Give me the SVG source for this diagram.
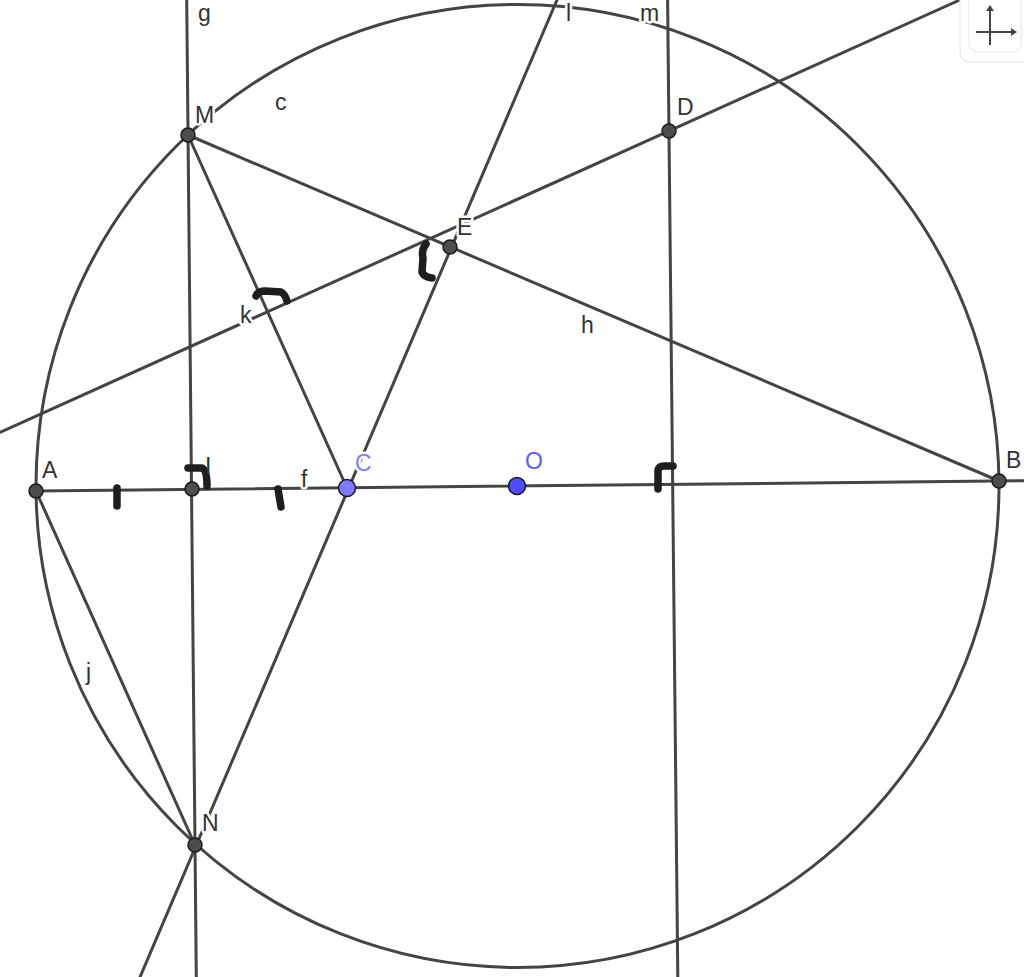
<svg xmlns="http://www.w3.org/2000/svg" width="1024" height="977" viewBox="0 0 1024 977">
<style>
.ln{stroke:#444;stroke-width:3;fill:none;stroke-linecap:round}
.mk{stroke:#1e1e1e;stroke-width:7.5;fill:none;stroke-linecap:round;stroke-linejoin:round}
.pt{fill:#4d4d4d;stroke:#1a1a1a;stroke-width:1.5}
.lb{font-family:"Liberation Sans",Arial,sans-serif;font-size:23px;fill:#333;stroke:#fff;stroke-width:5;paint-order:stroke;stroke-linejoin:round}
</style>
<rect width="1024" height="977" fill="#fff"/>
<g id="connectors">
<circle class="ln" cx="517.5" cy="486" r="481.5"/>
<line class="ln" x1="36" y1="491" x2="1024" y2="480.7"/>
<line class="ln" x1="186.7" y1="0" x2="196.3" y2="977"/>
<line class="ln" x1="188" y1="135" x2="999" y2="481"/>
<line class="ln" x1="557" y1="0" x2="140" y2="977"/>
<line class="ln" x1="36" y1="491" x2="195" y2="845"/>
<line class="ln" x1="0" y1="432.3" x2="959.8" y2="0"/>
<line class="ln" x1="188" y1="135" x2="347" y2="488"/>
<line class="ln" x1="667.6" y1="0" x2="677.8" y2="977"/>
</g>
<g id="line-labels">
<text class="lb" x="275" y="110">c</text>
<text class="lb" x="198" y="21">g</text>
<text class="lb" x="566" y="21">l</text>
<text class="lb" x="640" y="21">m</text>
<text class="lb" x="240" y="323">k</text>
<text class="lb" x="581" y="333">h</text>
<text class="lb" x="301" y="487">f</text>
<text class="lb" x="86" y="680">j</text>
</g>
<g id="markers">
<path class="mk" d="M188,468 L202,468 Q207,470 207,486"/>
<path class="mk" d="M256,296 Q258,291 265,291 L281,292 Q285,294 287,301"/>
<path class="mk" d="M426,244 Q421,250 423,258 L422,272 Q424,277 432,278"/>
<path class="mk" d="M658,489 L658,470 Q659,466 664,466 L673,466"/>
<line class="mk" x1="117" y1="488" x2="117" y2="506"/>
<line class="mk" x1="278" y1="489" x2="281" y2="507"/>
</g>
<g id="node-I">
<text class="lb" x="205" y="474" style="stroke-width:0">I</text>
<circle class="pt" cx="192" cy="489" r="7"/>
</g>
<g id="node-A"><circle class="pt" cx="36" cy="491" r="7"/><text class="lb" x="42" y="478">A</text></g>
<g id="node-B"><circle class="pt" cx="999" cy="481" r="7"/><text class="lb" x="1006" y="468">B</text></g>
<g id="node-C"><circle cx="347" cy="488" r="8.5" fill="#7b7bff" stroke="#1a1a1a" stroke-width="1.5"/><text class="lb" x="355" y="471" style="fill:#8080ff">C</text></g>
<g id="node-O"><circle cx="517" cy="486" r="8.5" fill="#4d4dff" stroke="#1a1a1a" stroke-width="1.5"/><text class="lb" x="525" y="469" style="fill:#5c5cff">O</text></g>
<g id="node-M"><circle class="pt" cx="188" cy="135" r="7"/><text class="lb" x="195" y="123">M</text></g>
<g id="node-D"><circle class="pt" cx="669" cy="131" r="7"/><text class="lb" x="677" y="115">D</text></g>
<g id="node-E"><circle class="pt" cx="450" cy="247" r="7"/><text class="lb" x="457" y="235">E</text></g>
<g id="node-N"><circle class="pt" cx="195" cy="845" r="7"/><text class="lb" x="202" y="831">N</text></g>
<g id="axes-button">
<rect x="960" y="-12" width="80" height="74" rx="9" fill="#fff" stroke="#e4e4e4" stroke-width="1.2"/>
<rect x="969" y="-8" width="52" height="60" rx="9" fill="#fff" stroke="#ececec" stroke-width="1.2"/>
<line x1="990" y1="9" x2="990" y2="45" stroke="#444" stroke-width="2"/>
<line x1="976" y1="32" x2="1012" y2="32" stroke="#444" stroke-width="2"/>
<path d="M986,11 L990,5 L994,11 Z" fill="#444"/>
<path d="M1011,28 L1017,32 L1011,36 Z" fill="#444"/>
</g>
</svg>
